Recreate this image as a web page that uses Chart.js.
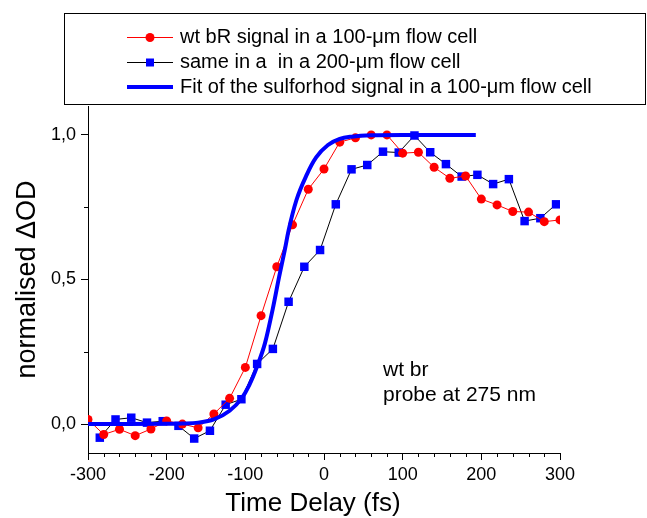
<!DOCTYPE html>
<html>
<head>
<meta charset="utf-8">
<script src="https://cdn.jsdelivr.net/npm/chart.js@4.4.1/dist/chart.umd.min.js"></script>
<style>
  html, body { margin: 0; padding: 0; background: #fff; }
  #wrap { width: 647px; height: 518px; }
</style>
</head>
<body>
<div id="wrap"><canvas id="chart" width="647" height="518"></canvas></div>
<script>
// ─── DATA ────────────────────────────────────────────────────────────────────

const timeRed = [-300, -280, -260, -240, -220, -200, -180, -160, -140, -120, -100,
  -80, -60, -40, -20, 0, 20, 40, 60, 80, 100, 120, 140, 160, 180, 200, 220, 240, 260, 280, 300];
const signalRed = [0.016, -0.036, -0.018, -0.040, -0.017, 0.011, 0.000, -0.013, 0.035, 0.089, 0.196,
  0.375, 0.544, 0.689, 0.812, 0.882, 0.975, 0.990, 1.000, 1.000, 0.937, 0.940, 0.888, 0.850, 0.858,
  0.778, 0.758, 0.735, 0.733, 0.700, 0.706];

const timeBlue = [-285, -265, -245, -225, -205, -185, -165, -145, -125, -105, -85, -65, -45, -25, -5,
  15, 35, 55, 75, 95, 115, 135, 155, 175, 195, 215, 235, 255, 275, 295];
const signalBlue = [-0.047, 0.016, 0.022, 0.005, 0.010, -0.006, -0.050, -0.023, 0.067, 0.086, 0.208,
  0.260, 0.423, 0.544, 0.602, 0.760, 0.881, 0.896, 0.942, 0.939, 0.998, 0.940, 0.899, 0.856, 0.862,
  0.830, 0.847, 0.702, 0.712, 0.760];

const timeFit = [-300, -250, -200, -180, -160, -140, -120, -105, -95, -85, -75, -65, -57, -50, -45,
  -35, -22, -10, 5, 20, 35, 60, 100, 150, 193];
const signalFit = [0, 0, 0.001, 0.002, 0.005, 0.016, 0.046, 0.088, 0.135, 0.200, 0.280, 0.400, 0.510,
  0.600, 0.670, 0.775, 0.862, 0.922, 0.965, 0.986, 0.994, 0.999, 1.000, 1.000, 1.000];

const xMajorTicks = [-300, -200, -100, 0, 100, 200, 300];
const xMinorTicks = [-280, -260, -240, -220, -180, -160, -140, -120, -80, -60, -40, -20,
  20, 40, 60, 80, 120, 140, 160, 180, 220, 240, 260, 280];
const yMajorTicks = [0, 0.5, 1.0];
const yMinorTicks = [0.25, 0.75];

const legendLabels = [
  'wt bR signal in a 100-\u03bcm flow cell',
  'same in a  in a 200-\u03bcm flow cell',
  'Fit of the sulforhod signal in a 100-\u03bcm flow cell'
];
const noteLines = ['wt br', 'probe at 275 nm'];
const xTitle = 'Time Delay (fs)';

// ─── STYLE ───────────────────────────────────────────────────────────────────

const RED   = '#ff0000';
const BLUE  = '#0000ff';
const FONT  = 'Arial, "Liberation Sans", sans-serif';

const toPoints = (xs, ys) => xs.map((x, i) => ({ x, y: ys[i] }));

// minor ticks, legend box, x title and the annotation
const extras = {
  id: 'extras',
  afterDraw(chart) {
    const { ctx, scales: { x, y } } = chart;
    ctx.save();
    ctx.strokeStyle = '#000';
    ctx.lineWidth = 1;
    ctx.beginPath();
    xMinorTicks.forEach(v => {
      const px = Math.round(x.getPixelForValue(v)) + 0.5;
      ctx.moveTo(px, y.bottom);
      ctx.lineTo(px, y.bottom + 4);
    });
    yMinorTicks.forEach(v => {
      const py = Math.round(y.getPixelForValue(v)) + 0.5;
      ctx.moveTo(x.left, py);
      ctx.lineTo(x.left - 4, py);
    });
    ctx.stroke();

    // legend box
    ctx.strokeRect(64.5, 13.5, 581, 91);
    const rows = [37, 62, 87];
    ctx.font = '20px ' + FONT;
    ctx.textBaseline = 'middle';
    ctx.fillStyle = '#000';
    legendLabels.forEach((t, i) => ctx.fillText(t, 180, rows[i]));

    ctx.lineWidth = 1;
    ctx.strokeStyle = RED;
    ctx.beginPath(); ctx.moveTo(127, rows[0] + 0.5); ctx.lineTo(173, rows[0] + 0.5); ctx.stroke();
    ctx.fillStyle = RED;
    ctx.beginPath(); ctx.arc(150, rows[0] + 0.5, 4.5, 0, Math.PI * 2); ctx.fill();

    ctx.strokeStyle = '#000';
    ctx.beginPath(); ctx.moveTo(127, rows[1] + 0.5); ctx.lineTo(173, rows[1] + 0.5); ctx.stroke();
    ctx.fillStyle = BLUE;
    ctx.fillRect(146, rows[1] - 3.5, 8, 8);

    ctx.strokeStyle = BLUE;
    ctx.lineWidth = 4;
    ctx.beginPath(); ctx.moveTo(127, rows[2]); ctx.lineTo(173, rows[2]); ctx.stroke();

    // x title, sitting a little left of the plot centre as in the original
    ctx.fillStyle = '#000';
    ctx.font = '26px ' + FONT;
    ctx.textAlign = 'center';
    ctx.textBaseline = 'alphabetic';
    ctx.fillText(xTitle, 313, 511);

    // annotation
    ctx.textAlign = 'left';
    ctx.font = '21px ' + FONT;
    const nx = x.getPixelForValue(75);
    ctx.fillText(noteLines[0], nx, 376);
    ctx.fillText(noteLines[1], nx, 401);
    ctx.restore();
  }
};

new Chart(document.getElementById('chart'), {
  type: 'line',
  data: {
    datasets: [
      {
        label: legendLabels[2],
        data: toPoints(timeFit, signalFit),
        borderColor: BLUE,
        borderWidth: 4,
        pointRadius: 0,
        cubicInterpolationMode: 'monotone',
        order: 0
      },
      {
        label: legendLabels[0],
        data: toPoints(timeRed, signalRed),
        borderColor: RED,
        borderWidth: 1,
        pointStyle: 'circle',
        pointRadius: 4.5,
        pointBorderWidth: 0,
        pointBackgroundColor: RED,
        order: 1
      },
      {
        label: legendLabels[1],
        data: toPoints(timeBlue, signalBlue),
        borderColor: '#000',
        borderWidth: 1,
        pointStyle: 'rect',
        pointRadius: 6,
        pointBorderWidth: 0,
        pointBackgroundColor: BLUE,
        order: 2
      }
    ]
  },
  options: {
    responsive: false,
    animation: false,
    events: [],
    layout: { padding: { top: 106, right: 87, left: 0, bottom: 0 } },
    plugins: { legend: { display: false }, tooltip: { enabled: false } },
    scales: {
      x: {
        type: 'linear',
        min: -300,
        max: 300,
        afterFit: s => { s.height = 65; },
        afterBuildTicks: s => { s.ticks = xMajorTicks.map(v => ({ value: v })); },
        border: { display: true, color: '#000', width: 1 },
        grid: { drawOnChartArea: false, drawTicks: true, tickLength: 7, tickColor: '#000' },
        ticks: { color: '#000', font: { family: FONT, size: 18 }, padding: 4, maxRotation: 0 },
        title: { display: false }
      },
      y: {
        type: 'linear',
        min: -0.1,
        max: 1.1,
        afterFit: s => { s.width = 88; },
        afterBuildTicks: s => { s.ticks = yMajorTicks.map(v => ({ value: v })); },
        border: { display: true, color: '#000', width: 1 },
        grid: { drawOnChartArea: false, drawTicks: true, tickLength: 7, tickColor: '#000' },
        ticks: { color: '#000', font: { family: FONT, size: 18 }, padding: 5,
                 callback: v => v.toFixed(1).replace('.', ',') },
        title: { display: true, text: 'normalised \u0394OD', color: '#000',
                 font: { family: FONT, size: 27 }, padding: { top: 11 } }
      }
    }
  },
  plugins: [extras]
});
</script>
</body>
</html>
